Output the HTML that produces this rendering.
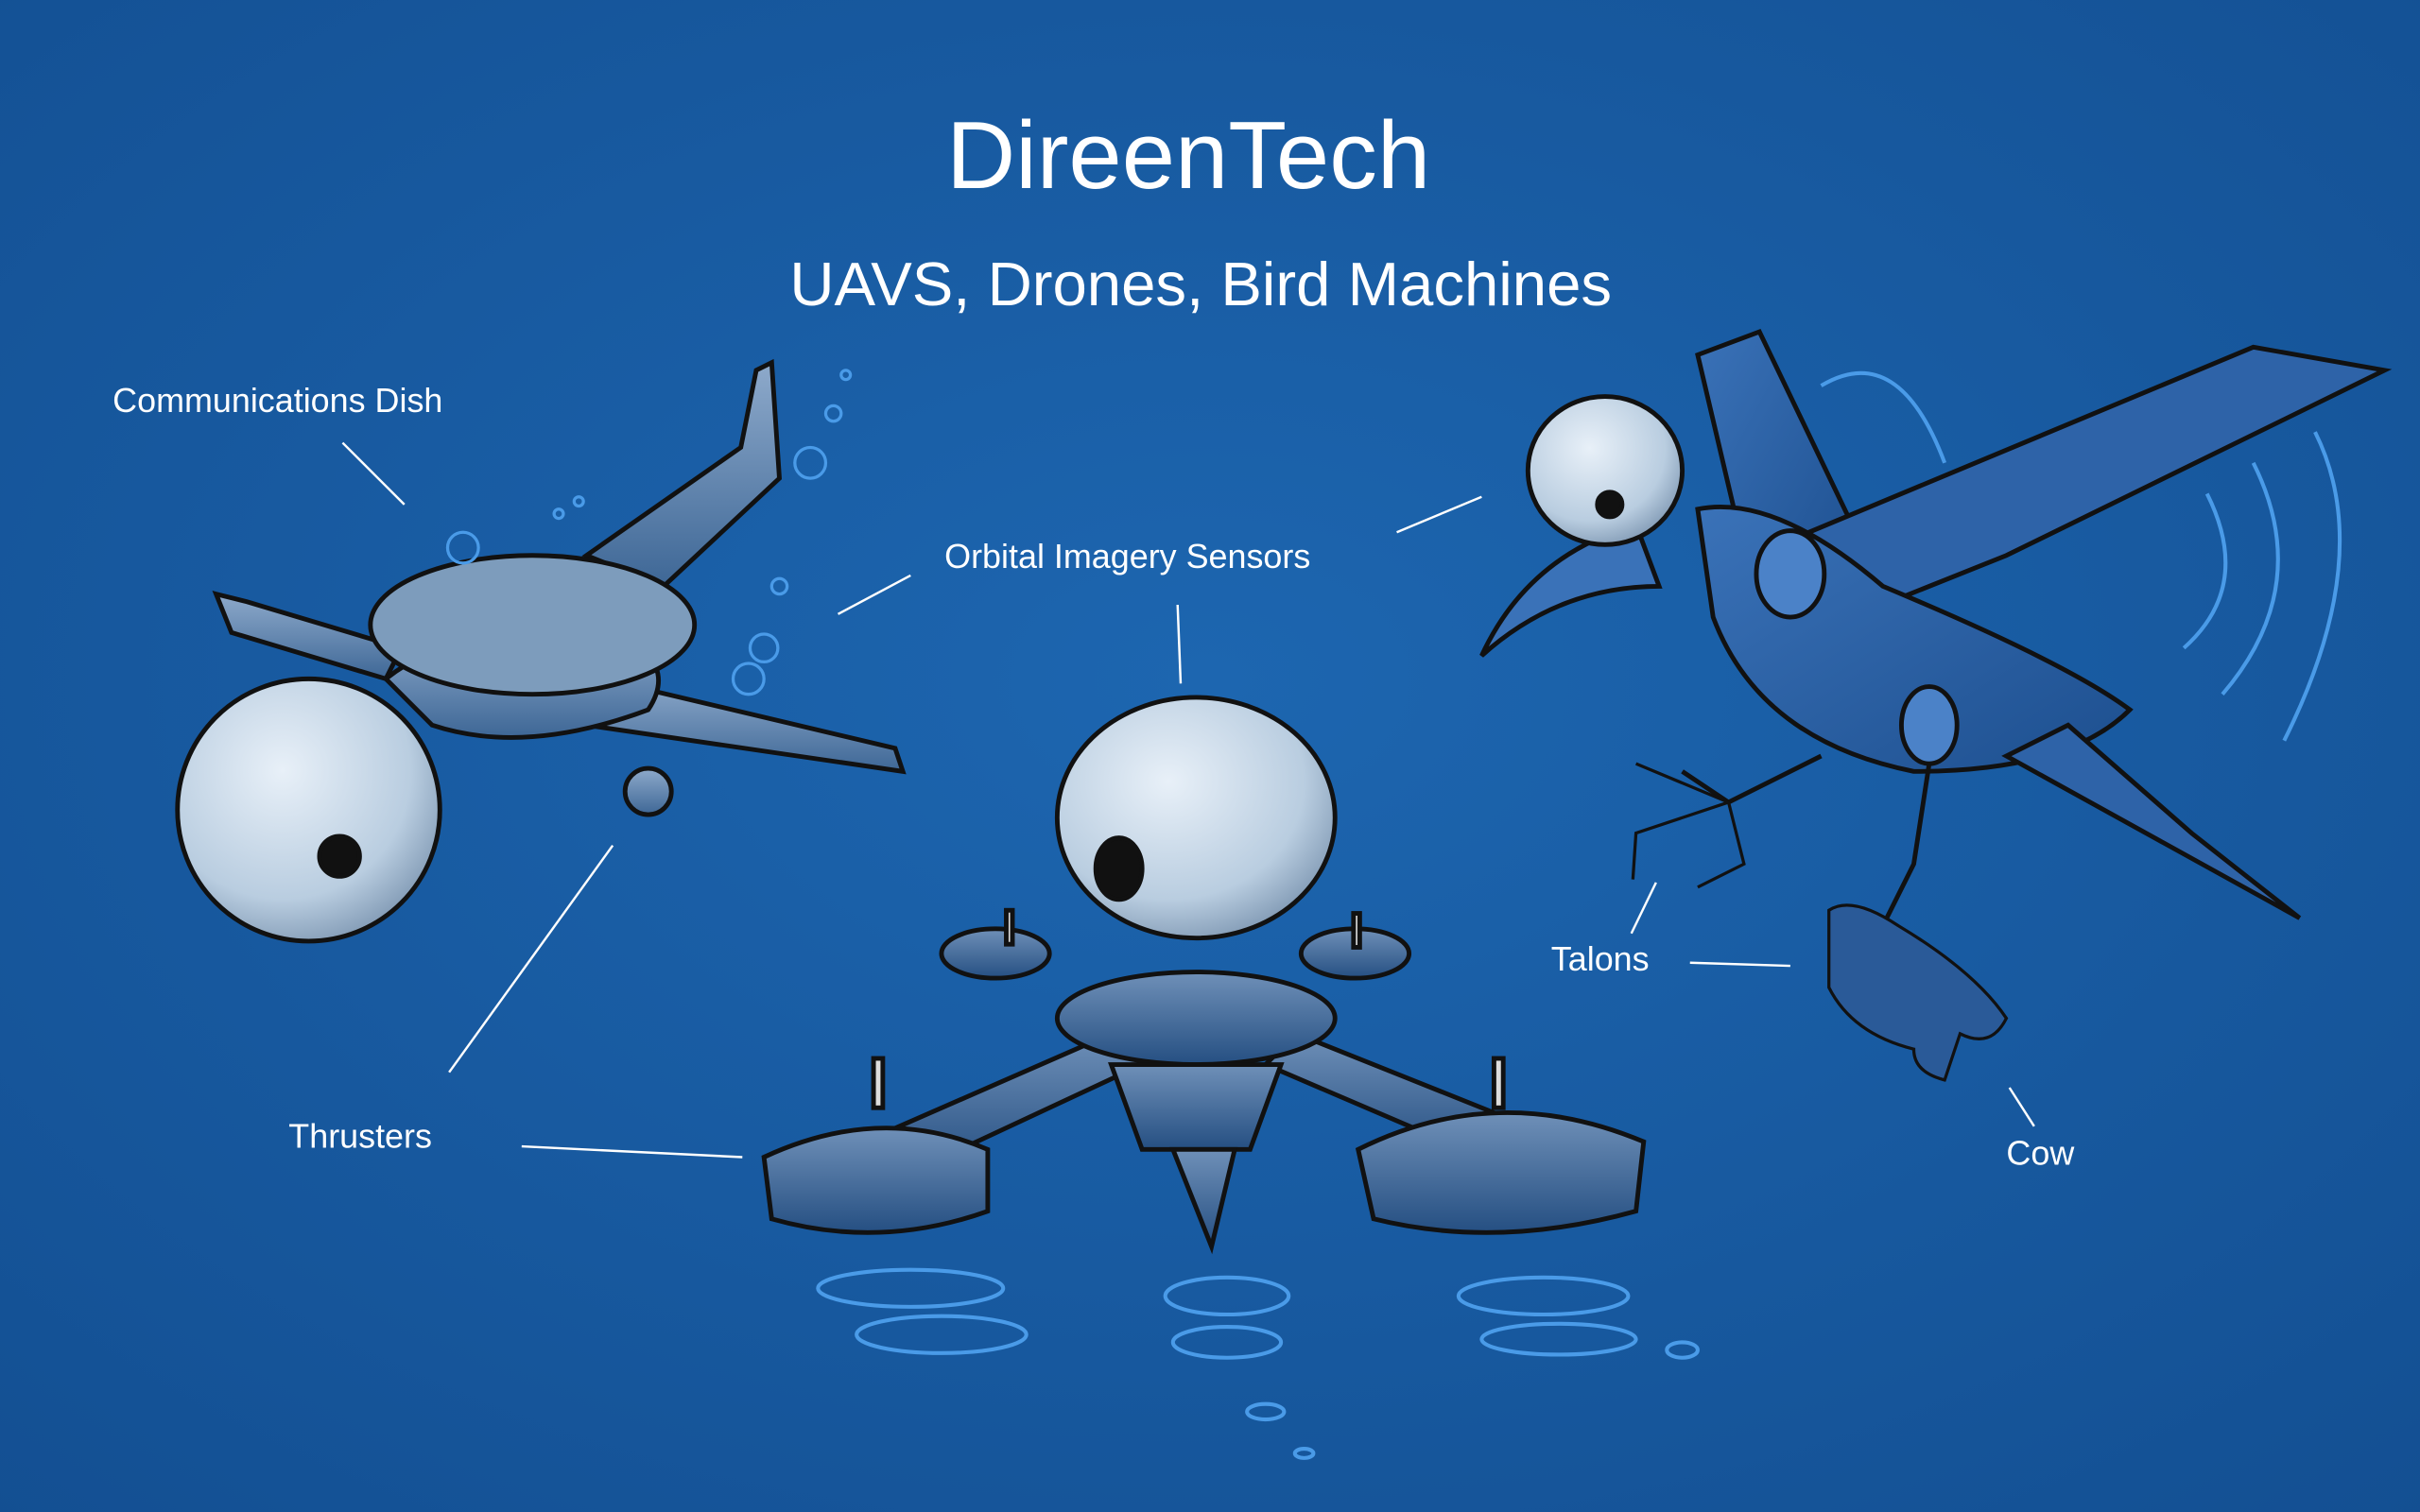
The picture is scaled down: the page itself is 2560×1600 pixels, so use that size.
<!DOCTYPE html>
<html><head><meta charset="utf-8"><style>
html,body{margin:0;padding:0;width:2560px;height:1600px;overflow:hidden;background:#1a5ea6}
svg{display:block}
text{font-family:"Liberation Sans","DejaVu Sans",sans-serif;fill:#fff}
</style></head><body>
<svg width="2560" height="1600" viewBox="0 0 1568 980" preserveAspectRatio="none">
<defs>
<radialGradient id="bg" cx="50%" cy="45%" r="75%"><stop offset="0" stop-color="#1d66b0"/><stop offset="1" stop-color="#134f92"/></radialGradient>
<radialGradient id="eye" cx="40%" cy="35%" r="70%"><stop offset="0" stop-color="#e8f0f8"/><stop offset="0.7" stop-color="#b9cde0"/><stop offset="1" stop-color="#7f98b3"/></radialGradient>
<linearGradient id="metal" x1="0" y1="0" x2="0" y2="1"><stop offset="0" stop-color="#8eaacb"/><stop offset="1" stop-color="#3e6796"/></linearGradient>
<linearGradient id="dark" x1="0" y1="0" x2="0" y2="1"><stop offset="0" stop-color="#6f90b8"/><stop offset="1" stop-color="#254f82"/></linearGradient>
<linearGradient id="bird" x1="0" y1="0" x2="1" y2="1"><stop offset="0" stop-color="#3a72b8"/><stop offset="1" stop-color="#1d4f8f"/></linearGradient>
</defs>
<rect width="1568" height="980" fill="url(#bg)"/>
<text x="770" y="122" font-size="62" text-anchor="middle">DireenTech</text>
<text x="778" y="198" font-size="40" text-anchor="middle">UAVS, Drones, Bird Machines</text>
<g font-size="22">
<text x="73" y="267">Communications Dish</text>
<text x="612" y="368">Orbital Imagery Sensors</text>
<text x="187" y="744">Thrusters</text>
<text x="1005" y="629">Talons</text>
<text x="1300" y="755">Cow</text>
</g>
<g stroke="#fff" stroke-width="1.5" fill="none">
<path d="M222 287 L262 327"/><path d="M590 373 L543 398"/><path d="M960 322 L905 345"/>
<path d="M763 392 L765 443"/><path d="M397 548 L291 695"/><path d="M338 743 L481 750"/>
<path d="M1073 572 L1057 605"/><path d="M1095 624 L1160 626"/><path d="M1302 705 L1318 730"/>
</g>
<!-- plane -->
<g stroke="#111" stroke-width="3" fill="url(#metal)">
<path d="M140 385 L160 390 L260 420 L250 440 L150 410 Z"/>
<path d="M390 440 L580 485 L585 500 L380 470 Z"/>
<path d="M380 360 L480 290 L490 240 L500 235 L505 310 L430 380 Z"/>
<path d="M250 440 Q300 400 400 410 Q440 430 420 460 Q340 490 280 470 Z"/>
<ellipse cx="345" cy="405" rx="105" ry="45" fill="#7d9cbc"/>
<circle cx="420" cy="513" r="15"/>
<ellipse cx="200" cy="525" rx="85" ry="85" fill="url(#eye)"/>
<circle cx="220" cy="555" r="13" fill="#111"/>
</g>
<g stroke="#4a9be8" stroke-width="2" fill="none">
<circle cx="548" cy="243" r="3"/><circle cx="540" cy="268" r="5"/><circle cx="525" cy="300" r="10"/>
<circle cx="375" cy="325" r="3"/><circle cx="362" cy="333" r="3"/><circle cx="300" cy="355" r="10"/>
<circle cx="495" cy="420" r="9"/><circle cx="485" cy="440" r="10"/><circle cx="505" cy="380" r="5"/>
</g>
<!-- drone -->
<g stroke="#111" stroke-width="3" fill="url(#dark)">
<path d="M560 740 L720 670 L740 690 L590 760 Z"/>
<path d="M990 730 L840 670 L820 690 L960 750 Z"/>
<ellipse cx="775" cy="660" rx="90" ry="30"/>
<path d="M720 690 L830 690 L810 745 L740 745 Z"/>
<path d="M760 745 L800 745 L785 808 Z"/>
<path d="M495 750 L500 790 Q570 810 640 785 L640 745 Q570 715 495 750 Z"/>
<path d="M880 745 L890 790 Q970 810 1060 785 L1065 740 Q970 700 880 745 Z"/>
<ellipse cx="645" cy="618" rx="35" ry="16"/>
<ellipse cx="878" cy="618" rx="35" ry="16"/>
<rect x="652" y="590" width="4" height="22" fill="#ddd"/><rect x="877" y="592" width="4" height="22" fill="#ddd"/>
<rect x="566" y="686" width="6" height="32" fill="#ddd"/><rect x="968" y="686" width="6" height="32" fill="#ddd"/>
<ellipse cx="775" cy="530" rx="90" ry="78" fill="url(#eye)"/>
<ellipse cx="725" cy="563" rx="15" ry="20" fill="#111"/>
</g>
<g stroke="#4a9be8" stroke-width="2.5" fill="none">
<ellipse cx="590" cy="835" rx="60" ry="12"/><ellipse cx="610" cy="865" rx="55" ry="12"/>
<ellipse cx="795" cy="840" rx="40" ry="12"/><ellipse cx="795" cy="870" rx="35" ry="10"/>
<ellipse cx="1000" cy="840" rx="55" ry="12"/><ellipse cx="1010" cy="868" rx="50" ry="10"/>
<ellipse cx="820" cy="915" rx="12" ry="5"/><ellipse cx="845" cy="942" rx="6" ry="3"/><ellipse cx="1090" cy="875" rx="10" ry="5"/>
<path d="M1180 250 Q1230 220 1260 300"/><path d="M1500 280 Q1540 360 1480 480"/><path d="M1460 300 Q1500 380 1440 450"/><path d="M1430 320 Q1460 380 1415 420"/>
</g>
<!-- bird -->
<g stroke="#111" stroke-width="3" fill="url(#bird)">
<path d="M1100 230 L1140 215 L1200 340 L1140 400 Z"/>
<path d="M1160 350 L1460 225 L1545 240 L1300 360 L1200 400 Z" fill="#2e63a8"/>
<path d="M1100 330 Q1150 320 1220 380 Q1340 430 1380 460 Q1340 500 1240 500 Q1140 480 1110 400 Z"/>
<path d="M1300 490 L1490 595 L1420 540 L1340 470 Z" fill="#2e63a8"/>
<path d="M1060 340 Q990 360 960 425 Q1010 380 1075 380 Z" fill="#3a72b8"/>
<ellipse cx="1040" cy="305" rx="50" ry="48" fill="url(#eye)"/>
<circle cx="1043" cy="327" r="8" fill="#111"/>
<ellipse cx="1160" cy="372" rx="22" ry="28" fill="#4b82c8"/>
<ellipse cx="1250" cy="470" rx="18" ry="25" fill="#4b82c8"/>
<path d="M1250 495 L1240 560 L1215 610" fill="none"/>
<path d="M1180 490 L1120 520 L1090 500" fill="none"/>
<path d="M1120 520 L1060 495 M1120 520 L1060 540 L1058 570 M1120 520 L1130 560 L1100 575" fill="none" stroke-width="2"/>
<path d="M1185 590 Q1200 580 1230 600 Q1280 630 1300 660 Q1290 680 1270 670 L1260 700 Q1240 695 1240 680 Q1200 670 1185 640 Z" fill="#2a5a98" stroke-width="2"/>
</g>
</svg>
</body></html>
